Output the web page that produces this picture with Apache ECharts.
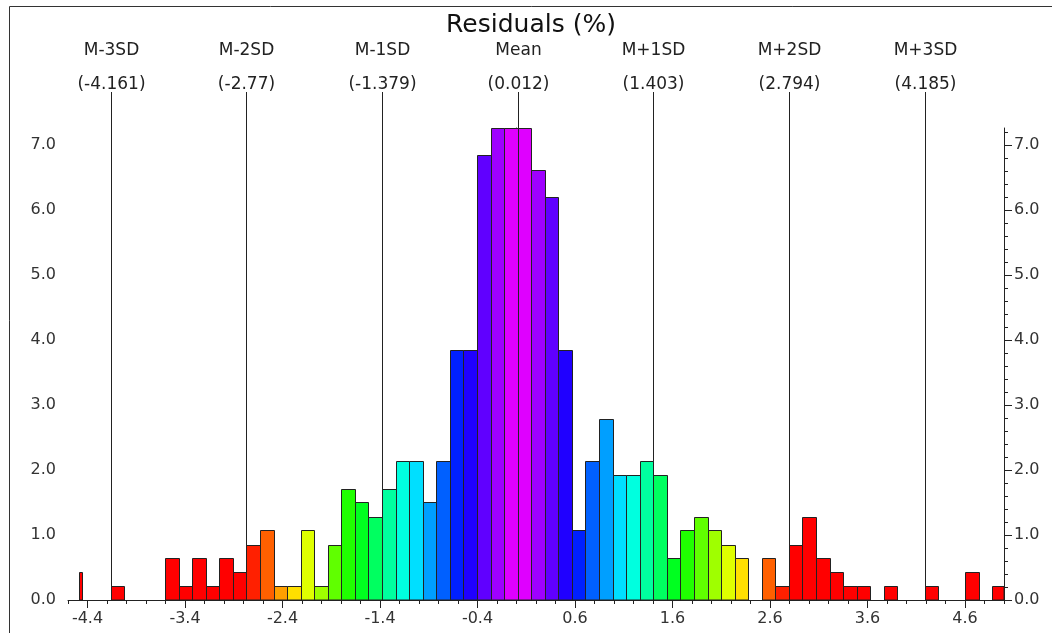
<!DOCTYPE html>
<html>
<head>
<meta charset="utf-8">
<title>Residuals (%)</title>
<script src="https://cdn.jsdelivr.net/npm/echarts@6/dist/echarts.min.js"></script>
<style>
html, body { margin: 0; padding: 0; background: #fff; }
#id-hist { width: 1052px; height: 633px; }
</style>
</head>
<body>
<div id="id-hist"></div>
<script>
// 直方图 residuals, bins are SD/10 wide and start at M-3SD
var binStart = -4.161
var binWidth = 0.1391
var binPct = [
    0.21, 0, 0, 0, 0.64, 0.21, 0.64, 0.21, 0.64, 0.43,
    0.85, 1.07, 0.21, 0.21, 1.07, 0.21, 0.85, 1.71, 1.50, 1.28,
    1.71, 2.14, 2.14, 1.50, 2.14, 3.85, 3.85, 6.84, 7.26, 7.26,
    7.26, 6.62, 6.20, 3.85, 1.07, 2.14, 2.78, 1.92, 1.92, 2.14,
    1.92, 0.64, 1.07, 1.28, 1.07, 0.85, 0.64, 0, 0.64, 0.21,
    0.85, 1.28, 0.64, 0.43, 0.21, 0.21, 0, 0.21, 0, 0,
    0.21, 0, 0, 0.43, 0, 0.21
]
// the narrow bar left of M-3SD: [from, to, pct]
var lowTail = [-4.49, -4.46, 0.43]

// mean / sd marker lines
var sdNames = ['M-3SD', 'M-2SD', 'M-1SD', 'Mean', 'M+1SD', 'M+2SD', 'M+3SD']
var sdValues = [-4.161, -2.77, -1.379, 0.012, 1.403, 2.794, 4.185]

var xTickLabels = [-4.4, -3.4, -2.4, -1.4, -0.4, 0.6, 1.6, 2.6, 3.6, 4.6]
var yTickLabels = [0, 1, 2, 3, 4, 5, 6, 7]

var font = 'DejaVu Sans'
var ink = '#222'

// 彩虹色: magenta at the mean -> red at 2SD
var binColor = function(k) {
    var hue = 300 - Math.abs(k + 0.5) * 15
    if (hue < 0) {
        hue = 0
    }
    return 'hsl(' + hue + ', 100%, 50%)'
}

var renderBar = function(params, api) {
    var lo = api.coord([api.value(0), 0])
    var hi = api.coord([api.value(1), api.value(2)])
    var x0 = Math.round(lo[0]) + 0.5
    var x1 = Math.round(hi[0]) + 0.5
    var y0 = Math.round(lo[1]) + 0.5
    var y1 = Math.round(hi[1]) + 0.5
    var rect = echarts.graphic.clipRectByRect({
        x: x0, y: y1, width: x1 - x0, height: y0 - y1
    }, params.coordSys)
    if (!rect) {
        return
    }
    return {
        type: 'rect',
        shape: rect,
        style: {
            fill: binColor(api.value(3)),
            stroke: ink,
            lineWidth: 1
        }
    }
}

var renderSd = function(params, api) {
    var p = api.coord([api.value(0), 0])
    var x = Math.round(p[0]) + 0.5
    var i = params.dataIndex
    var txt = {
        fill: ink,
        fontFamily: font,
        fontSize: 17,
        align: 'center',
        verticalAlign: 'middle'
    }
    return {
        type: 'group',
        children: [{
            type: 'line',
            shape: { x1: x, y1: 92, x2: x, y2: p[1] },
            style: { stroke: ink, lineWidth: 1 }
        }, {
            type: 'text',
            x: x, y: 51,
            style: Object.assign({ text: sdNames[i] }, txt)
        }, {
            type: 'text',
            x: x, y: 85,
            style: Object.assign({ text: '(' + sdValues[i] + ')' }, txt)
        }]
    }
}

var __initHistogram__ = function(title, Dom) {
    var meanBin = Math.round((sdValues[3] - binStart) / binWidth)
    var bars = [[lowTail[0], lowTail[1], lowTail[2], -40]]
    for (var i = 0; i < binPct.length; i++) {
        if (binPct[i] > 0) {
            bars.push([binStart + i * binWidth, binStart + (i + 1) * binWidth, binPct[i], i - meanBin])
        }
    }
    var yMax = Math.max.apply(null, binPct)
    var yMinor = []
    for (var v = 0; v < yMax; v += 0.2) {
        yMinor.push(+v.toFixed(1))
    }
    var label = { fontFamily: font, fontSize: 16, color: '#333' }
    var axisLine = { lineStyle: { color: ink, width: 1 } }

    var yAxis = function(pos, minorLen, majorLen, margin) {
        return [{
            type: 'value', position: pos, min: 0, max: yMax,
            axisLine: axisLine,
            axisTick: { customValues: yMinor, length: minorLen, lineStyle: { color: ink } },
            axisLabel: { show: false },
            splitLine: { show: false }
        }, {
            type: 'value', position: pos, min: 0, max: yMax,
            axisLine: { show: false },
            axisTick: { customValues: yTickLabels, length: majorLen, lineStyle: { color: ink } },
            axisLabel: Object.assign({
                customValues: yTickLabels,
                margin: margin,
                padding: [3, 0, 0, 0],
                formatter: function(v) { return v.toFixed(1) }
            }, label),
            splitLine: { show: false }
        }]
    }

    var option = {
        animation: false,
        backgroundColor: '#fff',
        title: {
            text: title,
            left: 531,
            top: 13,
            padding: 0,
            textAlign: 'center',
            textStyle: { fontFamily: font, fontSize: 25, fontWeight: 'normal', color: '#111' }
        },
        graphic: [{
            type: 'rect',
            shape: { x: 9.5, y: 6.5, width: 1100, height: 700 },
            style: { fill: 'none', stroke: '#333', lineWidth: 1 },
            silent: true
        }],
        grid: { left: 68, top: 128, width: 936, height: 472 },
        xAxis: [{
            type: 'value', position: 'bottom', min: -4.6, max: 5.0, interval: 0.2,
            axisLine: axisLine,
            axisTick: { length: 4, lineStyle: { color: ink } },
            axisLabel: { show: false },
            splitLine: { show: false }
        }, {
            type: 'value', position: 'bottom', min: -4.6, max: 5.0,
            axisLine: { show: false },
            axisTick: { customValues: xTickLabels, length: 8, lineStyle: { color: ink } },
            axisLabel: Object.assign({
                customValues: xTickLabels,
                margin: 11,
                formatter: function(v) { return v.toFixed(1) }
            }, label),
            splitLine: { show: false }
        }],
        yAxis: yAxis('left', 5, 10, 12).concat(yAxis('right', 4, 8, 10)),
        series: [{
            name: 'sd',
            type: 'custom',
            renderItem: renderSd,
            data: sdValues.map(function(v) { return [v] }),
            encode: { x: 0 },
            z: 1,
            silent: true
        }, {
            name: 'residuals',
            type: 'custom',
            renderItem: renderBar,
            data: bars,
            encode: { x: [0, 1], y: 2 },
            z: 2,
            silent: true
        }]
    }
    echarts.init(Dom).setOption(option)
}

__initHistogram__('Residuals (%)', document.getElementById('id-hist'))
</script>
</body>
</html>
